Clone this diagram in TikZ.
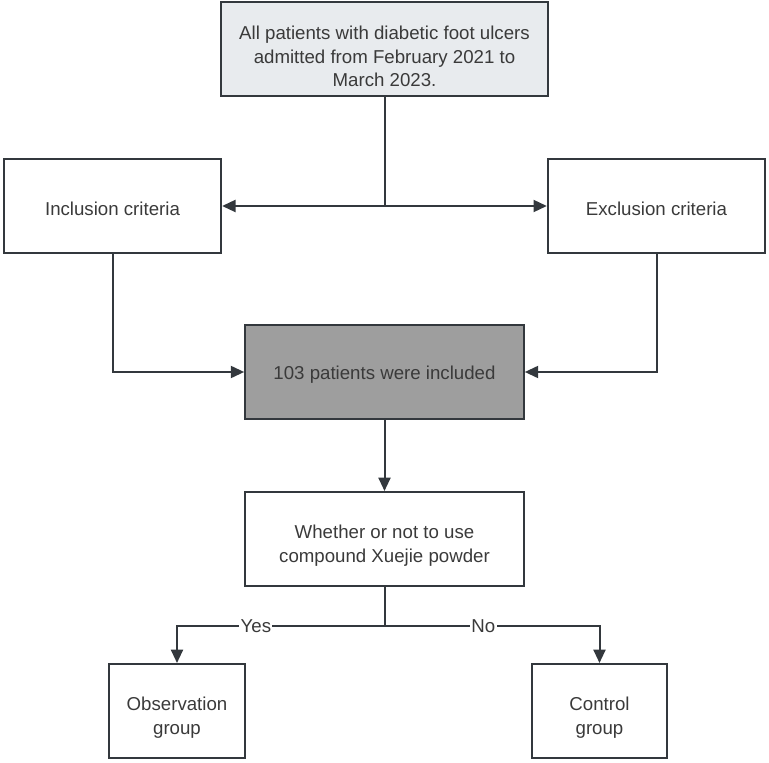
\documentclass[tikz,border=0pt]{standalone}
\usepackage{fontspec}
\setmainfont{Liberation Sans}
\usepackage{tikz}
\usetikzlibrary{arrows.meta}
\definecolor{linecol}{HTML}{33383D}
\definecolor{textcol}{HTML}{3A3A3A}
\definecolor{topfill}{HTML}{E8EBEE}
\definecolor{midfill}{HTML}{9E9E9E}
\newcommand{\padtop}{\rule{0pt}{20.5pt}}
\tikzset{
  box/.style={draw=linecol, line width=1.5pt, text=textcol, align=center,
    minimum height=70.5pt, inner sep=2pt, font=\fontsize{14}{17.8}\selectfont,
    execute at begin node={\rule{0pt}{14.5pt}}},
  lab/.style={fill=white, text=textcol, inner sep=1pt, font=\fontsize{14}{16}\selectfont},
  >={Triangle[length=10pt,width=9pt]}
}
\begin{document}
\begin{tikzpicture}[x=0.75pt,y=-0.75pt]
\useasboundingbox (0,0) rectangle (769,763);
\node[box, fill=topfill, minimum width=245pt] (all) at (384.5,49.5) {\padtop All patients with diabetic foot ulcers\\admitted from February 2021 to\\March 2023.};
\node[box, minimum width=163pt] (incl) at (112.5,206) {Inclusion criteria};
\node[box, minimum width=163pt] (excl) at (656.5,206) {Exclusion criteria};
\node[box, fill=midfill, minimum width=209pt] (pat) at (384.5,372) {103 patients were included};
\node[box, minimum width=209pt] (use) at (384.5,539) {\padtop Whether or not to use\\compound Xuejie powder};
\node[box, minimum width=102pt] (obs) at (177,711) {\padtop Observation\\group};
\node[box, minimum width=101pt] (ctrl) at (599.5,711) {\padtop Control\\group};

\coordinate (split) at (384.5,206);
\coordinate (fork) at (384.5,626);

\draw[linecol, line width=1.5pt] (all.south) -- (split);
\draw[->, linecol, line width=1.5pt] (split) -- (incl.east);
\draw[->, linecol, line width=1.5pt] (split) -- (excl.west);
\draw[->, linecol, line width=1.5pt] (incl.south) |- (pat.west);
\draw[->, linecol, line width=1.5pt] (excl.south) |- (pat.east);
\draw[->, linecol, line width=1.5pt] (pat.south) -- (use.north);
\draw[linecol, line width=1.5pt] (use.south) -- (fork);
\draw[->, linecol, line width=1.5pt] (fork) -| node[lab, pos=0.31] (yes) {Yes} (obs.north);
\draw[->, linecol, line width=1.5pt] (fork) -| node[lab, pos=0.23] (no) {No} (ctrl.north);
\end{tikzpicture}
\end{document}
